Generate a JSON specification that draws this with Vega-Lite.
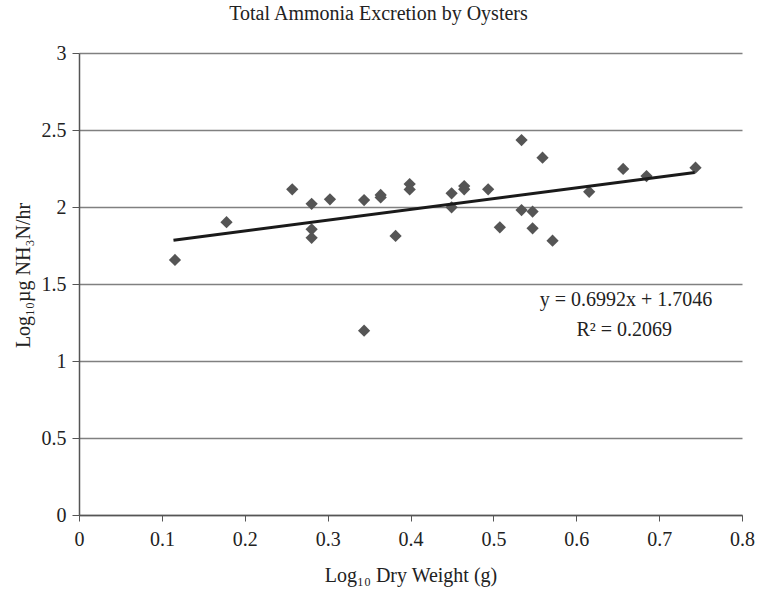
{
  "$schema": "https://vega.github.io/schema/vega-lite/v6.json",
  "width": 663,
  "height": 462,
  "autosize": {"type": "none"},
  "padding": {"left": 79, "top": 53, "right": 18, "bottom": 79},
  "background": "white",
  "config": {
    "font": "Liberation Serif",
    "view": {"stroke": null},
    "axis": {"labelFont": "Liberation Serif", "titleFont": "Liberation Serif", "titleFontWeight": "normal", "labelColor": "#222", "titleColor": "#222"}
  },
  "title": {
    "text": "Total Ammonia Excretion by Oysters",
    "font": "Liberation Serif",
    "fontSize": 20,
    "fontWeight": "normal",
    "color": "#222",
    "anchor": "middle",
    "frame": "group",
    "dx": -32,
    "offset": 19
  },
  "datasets": {
    "points": [
      {"dw": 0.1158, "nh": 1.656},
      {"dw": 0.178, "nh": 1.901},
      {"dw": 0.2573, "nh": 2.115},
      {"dw": 0.2807, "nh": 2.021},
      {"dw": 0.2807, "nh": 1.855},
      {"dw": 0.2807, "nh": 1.80},
      {"dw": 0.3028, "nh": 2.05},
      {"dw": 0.344, "nh": 2.045},
      {"dw": 0.344, "nh": 1.197},
      {"dw": 0.364, "nh": 2.078},
      {"dw": 0.364, "nh": 2.062},
      {"dw": 0.382, "nh": 1.812},
      {"dw": 0.399, "nh": 2.149},
      {"dw": 0.399, "nh": 2.114},
      {"dw": 0.4496, "nh": 2.089},
      {"dw": 0.4496, "nh": 1.998},
      {"dw": 0.4648, "nh": 2.136},
      {"dw": 0.4648, "nh": 2.115},
      {"dw": 0.4937, "nh": 2.115},
      {"dw": 0.5078, "nh": 1.868},
      {"dw": 0.534, "nh": 2.435},
      {"dw": 0.534, "nh": 1.98},
      {"dw": 0.5473, "nh": 1.97},
      {"dw": 0.5473, "nh": 1.862},
      {"dw": 0.5593, "nh": 2.32},
      {"dw": 0.5714, "nh": 1.781},
      {"dw": 0.6156, "nh": 2.099},
      {"dw": 0.6566, "nh": 2.247},
      {"dw": 0.6848, "nh": 2.201},
      {"dw": 0.7439, "nh": 2.255}
    ],
    "trend": [
      {"dw": 0.114, "nh": 1.7843},
      {"dw": 0.743, "nh": 2.2241}
    ],
    "labels": [
      {"dw": 0.66, "nh": 1.396, "label": "y = 0.6992x + 1.7046"},
      {"dw": 0.658, "nh": 1.201, "label": "R² = 0.2069"}
    ]
  },
  "layer": [
    {
      "data": {"name": "points"},
      "mark": {"type": "point", "shape": "diamond", "filled": true, "size": 150, "color": "#555555", "opacity": 1},
      "encoding": {
        "x": {
          "field": "dw", "type": "quantitative",
          "scale": {"domain": [0, 0.8], "nice": false, "zero": true},
          "axis": {
            "title": "Log₁₀ Dry Weight (g)",
            "values": [0, 0.1, 0.2, 0.3, 0.4, 0.5, 0.6, 0.7, 0.8],
            "labelExpr": "datum.value + ''",
            "grid": false,
            "domainColor": "#555",
            "domainWidth": 1.5,
            "tickColor": "#555",
            "tickSize": 6,
            "labelFontSize": 20,
            "labelPadding": 8,
            "titleFontSize": 20,
            "titlePadding": 16,
            "labelFlush": false
          }
        },
        "y": {
          "field": "nh", "type": "quantitative",
          "scale": {"domain": [0, 3], "nice": false},
          "axis": {
            "title": "Log₁₀µg NH₃N/hr",
            "values": [0, 0.5, 1, 1.5, 2, 2.5, 3],
            "labelExpr": "datum.value + ''",
            "grid": true,
            "gridColor": "#808080",
            "gridWidth": 1.5,
            "domainColor": "#555",
            "domainWidth": 1.5,
            "tickColor": "#555",
            "tickSize": 7,
            "labelFontSize": 20,
            "labelPadding": 6,
            "titleFontSize": 20,
            "titlePadding": 8,
            "titleY": 222,
            "labelFlush": false
          }
        }
      }
    },
    {
      "data": {"name": "trend"},
      "mark": {"type": "line", "color": "#1a1a1a", "strokeWidth": 3.2},
      "encoding": {
        "x": {"field": "dw", "type": "quantitative"},
        "y": {"field": "nh", "type": "quantitative"}
      }
    },
    {
      "data": {"name": "labels"},
      "mark": {"type": "text", "font": "Liberation Serif", "fontSize": 20, "color": "#222", "align": "center", "baseline": "middle"},
      "encoding": {
        "x": {"field": "dw", "type": "quantitative"},
        "y": {"field": "nh", "type": "quantitative"},
        "text": {"field": "label"}
      }
    }
  ]
}
